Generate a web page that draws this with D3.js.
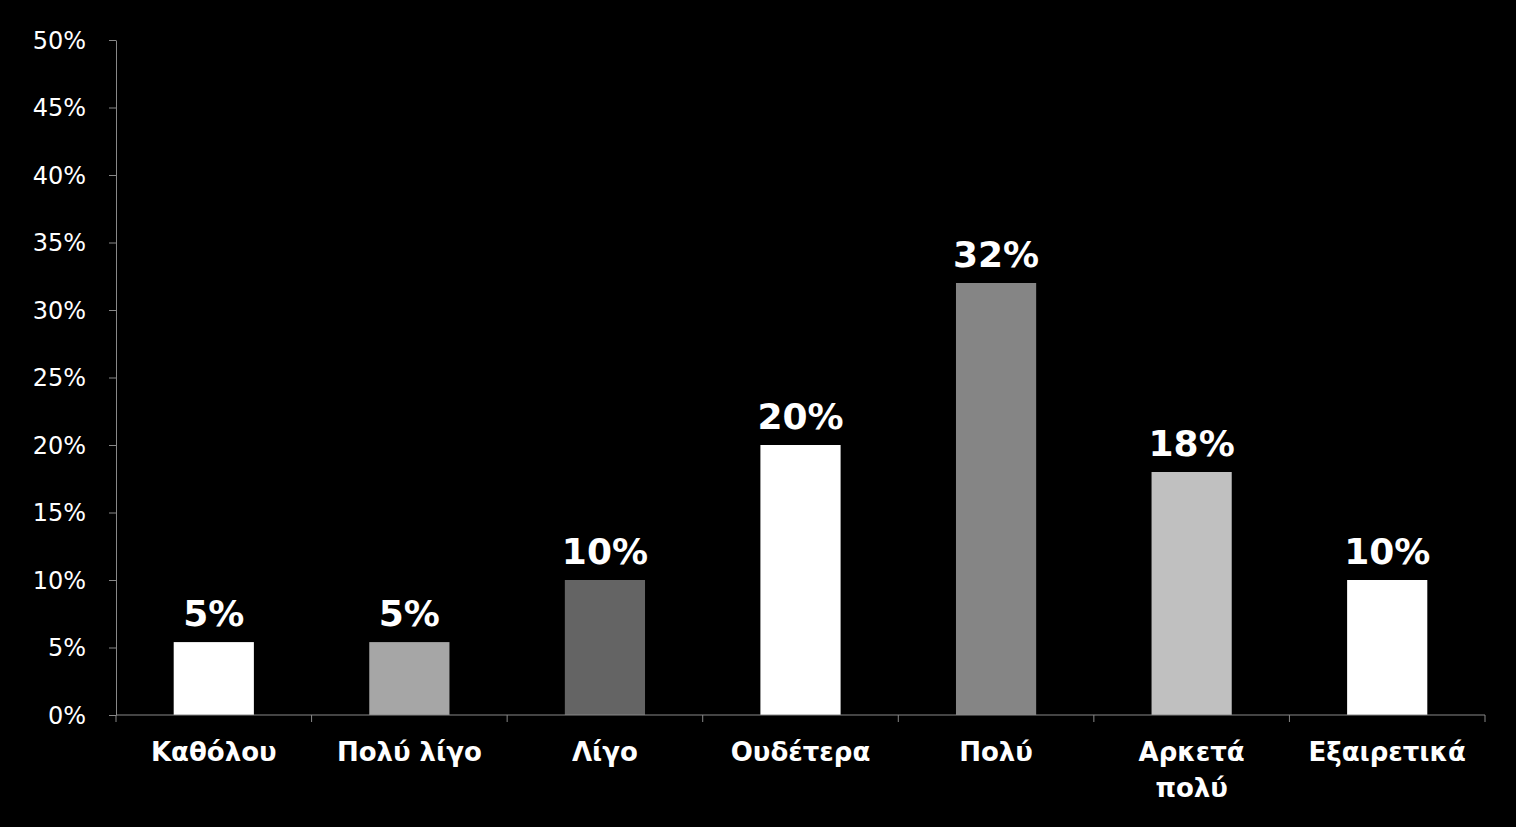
<!DOCTYPE html>
<html><head><meta charset="utf-8">
<script src="https://cdn.jsdelivr.net/npm/d3@7"></script>
<style>body{margin:0;background:#000;}</style></head>
<body><svg id="c" width="1516" height="827"></svg>
<script>
const categories = ['Καθόλου', 'Πολύ λίγο', 'Λίγο', 'Ουδέτερα', 'Πολύ', 'Αρκετά πολύ', 'Εξαιρετικά'];
const values = [5.4, 5.4, 10, 20, 32, 18, 10];
const valueLabels = ['5%', '5%', '10%', '20%', '32%', '18%', '10%'];
const colors = ['#ffffff', '#a6a6a6', '#646464', '#ffffff', '#858585', '#c0c0c0', '#ffffff'];
const yTicks = [0, 5, 10, 15, 20, 25, 30, 35, 40, 45, 50];

const svg = d3.select('#c');
const m = {left: 116, right: 31, top: 40, bottom: 112};
const W = 1516, H = 827;
const x = d3.scaleBand().domain(categories).range([m.left, W - m.right]).paddingInner(0.59).paddingOuter(0.295);
const y = d3.scaleLinear().domain([0, 50]).range([H - m.bottom, m.top]);
const font = 'DejaVu Sans, Verdana, sans-serif';

svg.append('rect').attr('width', W).attr('height', H).attr('fill', '#000');

// bars
svg.append('g').selectAll('rect').data(values).join('rect')
  .attr('x', (d, i) => x(categories[i]))
  .attr('y', d => y(d))
  .attr('width', x.bandwidth())
  .attr('height', d => y(0) - y(d))
  .attr('fill', (d, i) => colors[i]);

// value labels
svg.append('g').selectAll('text').data(values).join('text')
  .attr('x', (d, i) => x(categories[i]) + x.bandwidth() / 2)
  .attr('y', d => y(d) - 16)
  .attr('text-anchor', 'middle')
  .attr('fill', '#fff').attr('font-family', font).attr('font-weight', 'bold').attr('font-size', 36)
  .text((d, i) => valueLabels[i]);

// y axis
const ya = svg.append('g').attr('transform', `translate(${m.left},0)`)
  .call(d3.axisLeft(y).tickValues(yTicks).tickFormat(d => d + '%').tickSize(7).tickSizeOuter(0));
ya.selectAll('line,path').attr('stroke', '#888');
ya.selectAll('text').attr('fill', '#fff').attr('font-family', font).attr('font-size', 24).attr('dx', -20).attr('dy', '0.35em');

// x axis
const xa = svg.append('g').attr('transform', `translate(0,${y(0)})`);
xa.append('line').attr('x1', m.left).attr('x2', W - m.right).attr('stroke', '#888');
const step = x.step();
const bounds = d3.range(categories.length + 1).map(i => m.left + (W - m.left - m.right) * i / categories.length);
xa.selectAll('line.t').data(bounds).join('line').attr('class', 't')
  .attr('x1', d => d).attr('x2', d => d).attr('y1', 0).attr('y2', 7).attr('stroke', '#888');
xa.selectAll('text').data(categories).join('text')
  .attr('x', d => x(d) + x.bandwidth() / 2)
  .attr('text-anchor', 'middle')
  .attr('fill', '#fff').attr('font-family', font).attr('font-weight', 'bold').attr('font-size', 26)
  .each(function(d) {
    const t = d3.select(this);
    const parts = d === 'Αρκετά πολύ' ? ['Αρκετά', 'πολύ'] : [d];
    parts.forEach((p, i) => t.append('tspan').attr('x', x(d) + x.bandwidth() / 2).attr('y', 46 + i * 36).text(p));
  });
</script></body></html>
